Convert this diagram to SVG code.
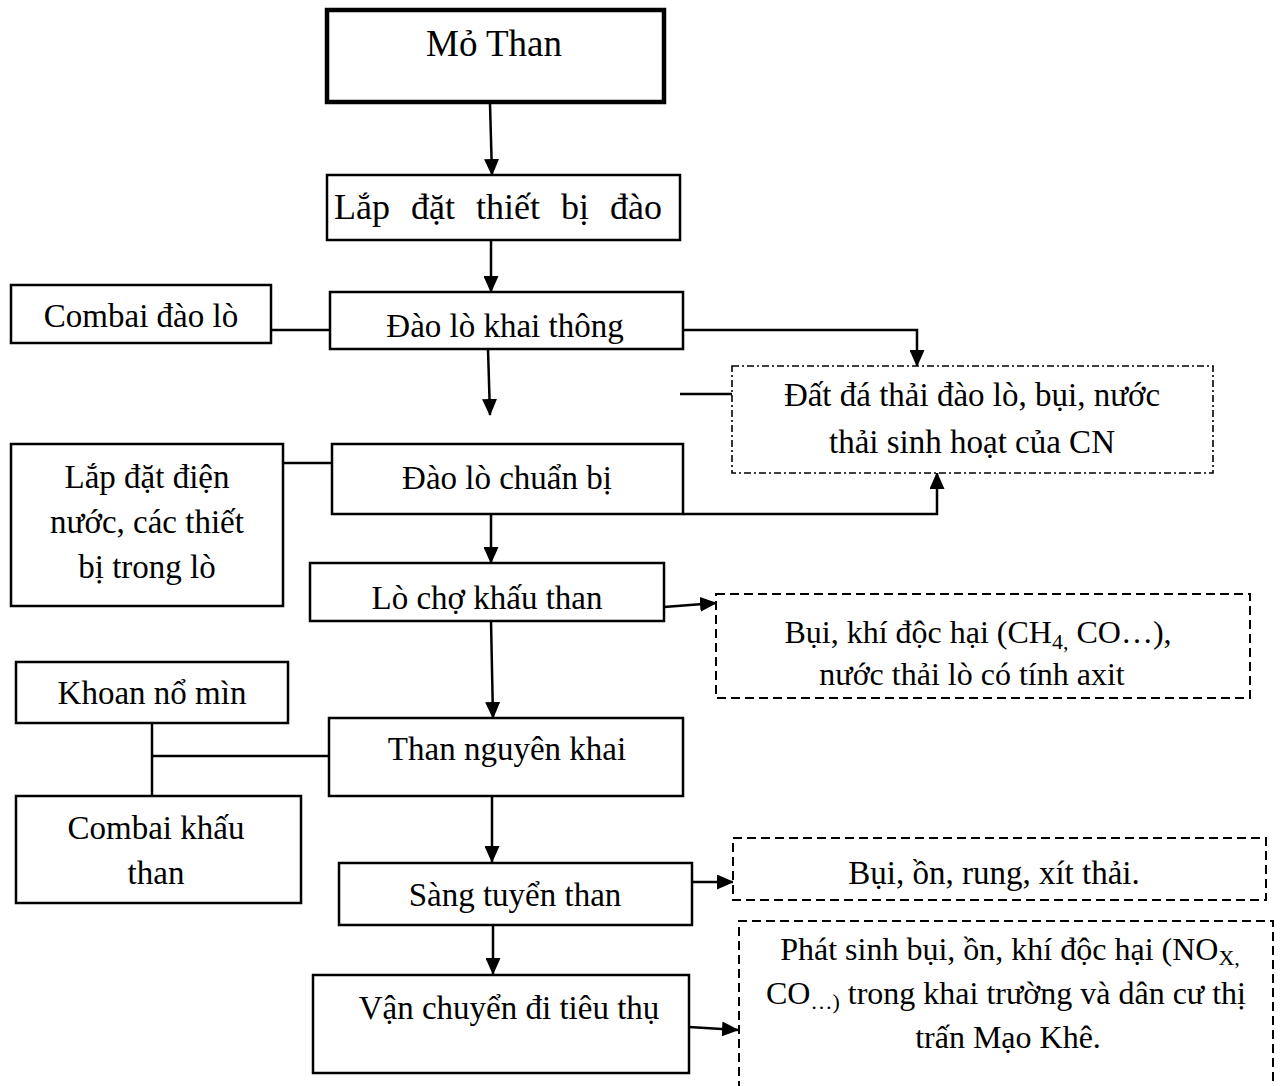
<svg xmlns="http://www.w3.org/2000/svg" width="1284" height="1086" viewBox="0 0 1284 1086">
<style>
text{font-family:"Liberation Serif","Times New Roman",serif;font-size:33px;fill:#000;text-anchor:middle}
.box{fill:#fff;stroke:#000;stroke-width:2.5}
.dd{fill:#fff;stroke:#000;stroke-width:1.6;stroke-dasharray:7 3 2 3}
.ds{fill:#fff;stroke:#000;stroke-width:2;stroke-dasharray:9 5}
.ln{fill:none;stroke:#000;stroke-width:2.5}
.sub{font-size:22px}
.sm{font-size:32px}
</style>
<defs>
<marker id="ah" markerUnits="userSpaceOnUse" markerWidth="17" markerHeight="15" refX="16" refY="7.5" orient="auto">
<path d="M0,0 L17,7.5 L0,15 Z" fill="#000"/>
</marker>
</defs>
<g id="connectors">
<line class="ln" x1="490" y1="104" x2="492" y2="175" marker-end="url(#ah)"/>
<line class="ln" x1="491" y1="240" x2="491" y2="292" marker-end="url(#ah)"/>
<line class="ln" x1="271" y1="330" x2="330" y2="330"/>
<polyline class="ln" points="683,330 917,330 917,366" marker-end="url(#ah)"/>
<line class="ln" x1="488" y1="349" x2="490" y2="415" marker-end="url(#ah)"/>
<line class="ln" x1="680" y1="394" x2="732" y2="394"/>
<line class="ln" x1="283" y1="463" x2="332" y2="463"/>
<polyline class="ln" points="683,514 937,514 937,473" marker-end="url(#ah)"/>
<line class="ln" x1="491" y1="514" x2="491" y2="563" marker-end="url(#ah)"/>
<line class="ln" x1="664" y1="607" x2="716" y2="603" marker-end="url(#ah)"/>
<line class="ln" x1="491" y1="621" x2="493" y2="718" marker-end="url(#ah)"/>
<line class="ln" x1="152" y1="723" x2="152" y2="796"/>
<line class="ln" x1="152" y1="756" x2="329" y2="756"/>
<line class="ln" x1="492" y1="796" x2="492" y2="862" marker-end="url(#ah)"/>
<line class="ln" x1="692" y1="882" x2="733" y2="882" marker-end="url(#ah)"/>
<line class="ln" x1="493" y1="925" x2="493" y2="974" marker-end="url(#ah)"/>
<line class="ln" x1="689" y1="1027" x2="738" y2="1030" marker-end="url(#ah)"/>
</g>
<g id="mo-than"><rect x="327" y="10" width="337" height="92" fill="#fff" stroke="#000" stroke-width="4.5"/><text x="494" y="56" style="font-size:37px">Mỏ Than</text></g>
<g id="lap-dat-thiet-bi"><rect class="box" x="327" y="175" width="353" height="65"/><text x="498" y="219" style="font-size:36px;word-spacing:12px">Lắp đặt thiết bị đào</text></g>
<g id="dao-lo-khai-thong"><rect class="box" x="330" y="292" width="353" height="57"/><text x="505" y="337">Đào lò khai thông</text></g>
<g id="combai-dao-lo"><rect class="box" x="11" y="285" width="260" height="58"/><text x="141" y="327">Combai đào lò</text></g>
<g id="chat-thai-dao-lo"><rect class="dd" x="732" y="366" width="481" height="107"/><text x="972" y="406">Đất đá thải đào lò, bụi, nước</text><text x="972" y="453">thải sinh hoạt của CN</text></g>
<g id="dao-lo-chuan-bi"><rect class="box" x="332" y="444" width="351" height="70"/><text x="507" y="489">Đào lò chuẩn bị</text></g>
<g id="lap-dat-dien-nuoc"><rect class="box" x="11" y="444" width="272" height="162"/><text x="147" y="488">Lắp đặt điện</text><text x="147" y="533">nước, các thiết</text><text x="147" y="578">bị trong lò</text></g>
<g id="lo-cho-khau-than"><rect class="box" x="310" y="563" width="354" height="58"/><text x="487" y="609">Lò chợ khấu than</text></g>
<g id="chat-thai-lo-cho"><rect class="ds" x="716" y="594" width="534" height="104"/><text x="978" y="643" class="sm">Bụi, khí độc hại (CH<tspan class="sub" dy="6">4,</tspan><tspan dy="-6"> CO…),</tspan></text><text x="972" y="685" class="sm">nước thải lò có tính axit</text></g>
<g id="than-nguyen-khai"><rect class="box" x="329" y="718" width="354" height="78"/><text x="507" y="760">Than nguyên khai</text></g>
<g id="khoan-no-min"><rect class="box" x="16" y="662" width="272" height="61"/><text x="152" y="704">Khoan nổ mìn</text></g>
<g id="combai-khau-than"><rect class="box" x="16" y="796" width="285" height="107"/><text x="156" y="839">Combai khấu</text><text x="156" y="884">than</text></g>
<g id="sang-tuyen-than"><rect class="box" x="339" y="863" width="353" height="62"/><text x="515" y="906">Sàng tuyển than</text></g>
<g id="chat-thai-sang"><rect class="ds" x="733" y="838" width="533" height="62"/><text x="994" y="884">Bụi, ồn, rung, xít thải.</text></g>
<g id="van-chuyen"><rect class="box" x="313" y="975" width="376" height="98"/><text x="509" y="1019">Vận chuyển đi tiêu thụ</text></g>
<g id="chat-thai-van-chuyen"><path class="ds" d="M739,1090 V921 H1273 V1090"/><text x="1010" y="960" class="sm">Phát sinh bụi, ồn, khí độc hại (NO<tspan class="sub" dy="5">X,</tspan></text><text x="1006" y="1004" class="sm">CO<tspan class="sub" dy="5">…)</tspan><tspan dy="-5"> trong khai trường và dân cư thị</tspan></text><text x="1008" y="1048" class="sm">trấn Mạo Khê.</text></g>
</svg>
